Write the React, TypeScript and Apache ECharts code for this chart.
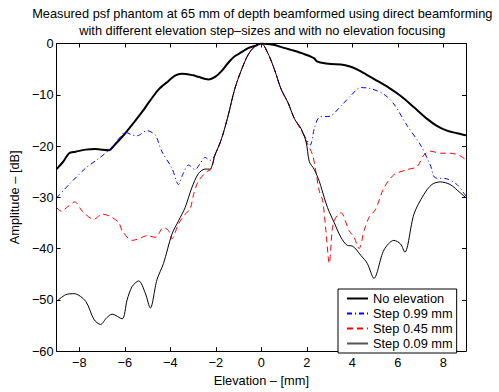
import React, { useEffect, useRef } from "react";
import * as echarts from "echarts";

const xTicks = [-8, -6, -4, -2, 0, 2, 4, 6, 8];

const noElevX = [-9, -8.7, -8.45, -8.16, -7.72, -7.3, -6.7, -6.45, -6.0, -5.6, -5.25, -4.9, -4.5, -4.08, -3.79, -3.5, -3.0, -2.77, -2.33, -2.0, -1.75, -1.46, -1.17, -0.87, -0.58, -0.29, 0, 0.29, 0.58, 0.95, 1.31, 1.6, 1.9, 2.2, 2.33, 2.45, 2.6, 3.06, 3.5, 3.9, 4.23, 4.6, 5.1, 5.6, 6.12, 6.7, 7.29, 7.7, 8.16, 8.6, 9];
const noElevY = [-24.5, -23.0, -21.4, -21.1, -20.7, -20.6, -20.8, -19.8, -17.6, -15.4, -13.4, -11.2, -8.9, -7.3, -6.25, -5.9, -6.2, -6.5, -7.0, -6.4, -5.4, -3.8, -2.5, -1.7, -0.9, -0.5, 0, -0.1, -0.3, -0.8, -1.25, -1.6, -2.1, -2.6, -2.9, -3.5, -3.7, -4.0, -4.1, -4.5, -5.1, -6.0, -7.3, -8.6, -10.2, -12.4, -14.7, -16.0, -17.0, -17.5, -17.9];

const step099X = [-9, -8.45, -7.72, -7.14, -6.7, -6.27, -5.98, -5.7, -5.46, -5.03, -4.66, -4.37, -3.93, -3.64, -3.45, -3.2, -2.91, -2.7, -2.48, -2.26, -2.04, -1.75, -1.46, -1.17, -0.87, -0.58, -0.29, 0, 0.29, 0.58, 0.87, 1.17, 1.46, 1.75, 1.97, 2.15, 2.33, 2.55, 3.06, 3.5, 3.93, 4.37, 4.81, 5.39, 5.83, 6.41, 7.0, 7.43, 7.65, 8.16, 8.6, 9];
const step099Y = [-30.1, -27.5, -24.3, -22.4, -20.8, -18.6, -17.3, -17.8, -18.0, -17.0, -17.9, -21.1, -24.3, -27.5, -25.5, -23.7, -24.6, -23.5, -22.2, -22.8, -21.8, -18.6, -14.1, -8.9, -5.1, -2.2, -0.6, 0, -1.9, -5.1, -8.9, -11.5, -14.7, -16.8, -18.6, -19.8, -16.6, -14.4, -14.1, -12.2, -10.2, -8.6, -8.8, -9.9, -11.8, -16.0, -19.8, -23.7, -26.2, -26.4, -27.5, -29.8];

const step045X = [-9, -8.8, -8.5, -8.2, -7.87, -7.36, -7.0, -6.7, -6.27, -6.12, -5.68, -5.39, -5.03, -4.66, -4.3, -4.08, -3.93, -3.64, -3.35, -3.13, -2.98, -2.77, -2.4, -2.2, -2.04, -1.75, -1.46, -1.17, -0.87, -0.58, -0.29, 0, 0.29, 0.58, 0.87, 1.17, 1.46, 1.75, 1.97, 2.26, 2.4, 2.55, 2.7, 2.84, 2.99, 3.13, 3.28, 3.5, 3.86, 4.08, 4.3, 4.52, 4.74, 5.03, 5.39, 5.83, 6.41, 6.85, 7.14, 7.43, 7.87, 8.3, 8.74, 9];
const step045Y = [-32.0, -32.7, -31.8, -30.9, -32.7, -34.3, -33.3, -33.6, -34.9, -36.5, -38.4, -38.1, -37.5, -37.8, -35.9, -36.5, -38.1, -35.2, -33.3, -32.3, -29.5, -26.9, -25.0, -24.5, -21.8, -18.6, -14.1, -8.9, -5.1, -2.2, -0.6, 0, -1.9, -5.1, -8.9, -11.5, -14.7, -16.8, -19.0, -21.8, -25.0, -28.8, -30.7, -36.5, -42.9, -35.9, -33.9, -33.0, -36.5, -37.8, -40.0, -36.5, -33.9, -32.3, -28.2, -25.6, -24.6, -24.0, -21.8, -21.0, -21.4, -21.4, -21.9, -22.7];

const step009X = [-9, -8.6, -8.23, -7.72, -7.36, -7.07, -6.8, -6.56, -6.12, -5.9, -5.68, -5.39, -5.1, -4.88, -4.59, -4.3, -3.93, -3.64, -3.35, -3.06, -2.77, -2.48, -2.26, -2.04, -1.75, -1.46, -1.17, -0.87, -0.58, -0.29, 0, 0.29, 0.58, 0.87, 1.17, 1.46, 1.75, 1.97, 2.11, 2.33, 2.55, 2.77, 2.91, 3.2, 3.5, 3.79, 4.0, 4.37, 4.66, 4.95, 5.39, 5.83, 6.12, 6.31, 6.71, 7.14, 7.5, 7.87, 8.3, 8.74, 9];
const step009Y = [-50.3, -49.0, -48.8, -50.3, -53.8, -54.8, -53.5, -52.8, -53.7, -50.0, -47.4, -46.3, -48.7, -51.6, -46.1, -42.9, -37.2, -34.6, -32.0, -28.2, -25.4, -24.5, -24.5, -21.8, -18.6, -14.1, -8.9, -5.1, -2.2, -0.6, 0, -1.9, -5.1, -8.9, -11.5, -14.7, -16.6, -19.2, -23.0, -24.6, -26.9, -30.1, -32.0, -34.9, -37.8, -39.4, -39.5, -41.3, -42.9, -45.8, -40.3, -38.4, -39.1, -40.7, -33.3, -29.5, -27.5, -27.0, -27.5, -29.1, -30.1];

const seriesNames = ["No elevation", "Step 0.99 mm", "Step 0.45 mm", "Step 0.09 mm"];
const titleLines = [
  "Measured psf phantom at 65 mm of depth beamformed using direct beamforming",
  "with different elevation step\u2013sizes and with no elevation focusing",
];

const FONT = "Liberation Sans, Arial, Helvetica, sans-serif";
const FS = 12.8;
const zip = (xs: number[], ys: number[]) => xs.map((x, i) => [x, ys[i]]);
const fmt = (v: number) => (v < 0 ? "\u2212" + Math.abs(v) : String(v));

export default function App() {
  const ref = useRef<HTMLDivElement>(null);
  useEffect(() => {
    document.body.style.margin = "0";
    const chart = echarts.init(ref.current!, null, { renderer: "svg" });
    const axisCommon = {
      type: "value" as const,
      axisLine: { show: true, onZero: false, lineStyle: { color: "#000", width: 1 } },
      axisTick: { show: true, inside: true, length: 4, lineStyle: { color: "#000" } },
      splitLine: { show: false },
    };
    chart.setOption({
      animation: false,
      backgroundColor: "#fff",
      graphic: titleLines.map((t, i) => ({
        type: "text",
        x: 262.3,
        y: 13.3 + i * 16.7,
        silent: true,
        style: {
          text: t,
          fontFamily: FONT,
          fontSize: FS,
          fill: "#000",
          align: "center",
          verticalAlign: "middle",
        },
      })),
      grid: { left: 54, top: 43.5, width: 412, height: 312, containLabel: false },
      xAxis: [
        {
          ...axisCommon,
          position: "bottom",
          min: -9,
          max: 9,
          axisTick: { ...axisCommon.axisTick, customValues: xTicks },
          axisLabel: { customValues: xTicks, formatter: fmt, color: "#000", fontFamily: FONT, fontSize: FS, margin: 5 },
          name: "Elevation \u2013 [mm]",
          nameLocation: "middle",
          nameGap: 17,
          nameTextStyle: { fontFamily: FONT, fontSize: FS, color: "#000" },
        },
        {
          ...axisCommon,
          position: "top",
          min: -9,
          max: 9,
          axisTick: { ...axisCommon.axisTick, customValues: xTicks },
          axisLabel: { show: false },
        },
      ],
      yAxis: [
        {
          ...axisCommon,
          position: "left",
          min: -60,
          max: 0,
          interval: 10,
          axisLabel: { formatter: fmt, color: "#000", fontFamily: FONT, fontSize: FS, margin: 3 },
          name: "Amplitude \u2013 [dB]",
          nameLocation: "middle",
          nameGap: 29,
          nameRotate: 90,
          nameTextStyle: { fontFamily: FONT, fontSize: FS, color: "#000" },
        },
        {
          ...axisCommon,
          position: "right",
          min: -60,
          max: 0,
          interval: 10,
          axisLabel: { show: false },
        },
      ],
      legend: {
        data: [
          { name: seriesNames[0] },
          { name: seriesNames[1] },
          { name: seriesNames[2] },
          { name: seriesNames[3], lineStyle: { color: "#555" } },
        ],
        orient: "vertical",
        left: 338,
        top: 289,
        backgroundColor: "#fff",
        borderColor: "#000",
        borderWidth: 1,
        borderRadius: 0,
        padding: [3, 4, 3, 8],
        itemWidth: 21,
        itemHeight: 10,
        itemGap: 2,
        itemStyle: { opacity: 0 },
        textStyle: { fontFamily: FONT, fontSize: FS, color: "#000" },
        selectedMode: false,
      },
      series: [
        {
          name: seriesNames[0],
          type: "line",
          data: zip(noElevX, noElevY),
          showSymbol: false,
          symbol: "none",
          smooth: 0.3,
          lineStyle: { color: "#000", width: 2 },
          itemStyle: { color: "#000" },
        },
        {
          name: seriesNames[1],
          type: "line",
          data: zip(step099X, step099Y),
          showSymbol: false,
          symbol: "none",
          smooth: 0.3,
          lineStyle: { color: "#0000ff", width: 1, type: [5, 3, 1, 3] },
          itemStyle: { color: "#0000ff" },
        },
        {
          name: seriesNames[2],
          type: "line",
          data: zip(step045X, step045Y),
          showSymbol: false,
          symbol: "none",
          smooth: 0.3,
          lineStyle: { color: "#ff0000", width: 1, type: [6, 4] },
          itemStyle: { color: "#ff0000" },
        },
        {
          name: seriesNames[3],
          type: "line",
          data: zip(step009X, step009Y),
          showSymbol: false,
          symbol: "none",
          smooth: 0.3,
          lineStyle: { color: "#000", width: 1 },
          itemStyle: { color: "#000" },
        },
      ],
    });
    return () => chart.dispose();
  }, []);
  return <div ref={ref} style={{ position: "fixed", left: 0, top: 0, width: 499, height: 392 }} />;
}
